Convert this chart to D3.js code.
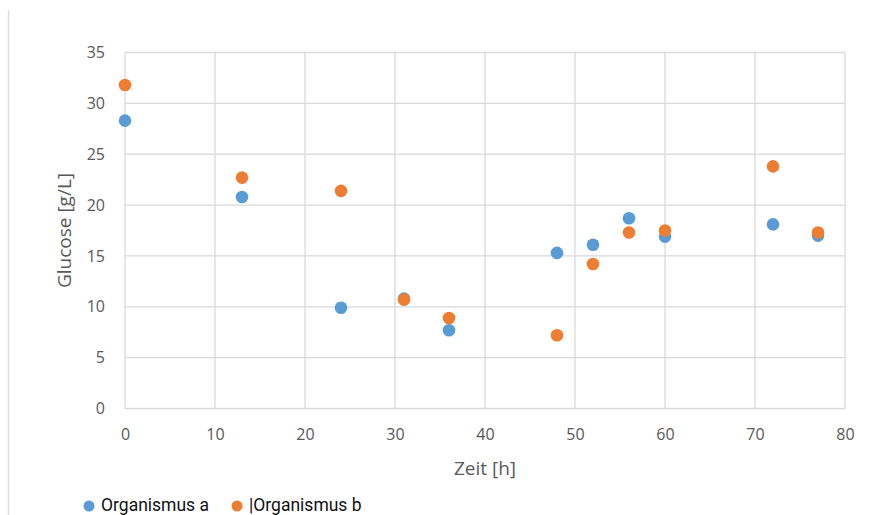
<html>
<head>
<meta charset="utf-8">
<script src="https://d3js.org/d3.v7.min.js"></script>
<style>
body { margin: 0; background: #fff; }
svg { display: block; }
.tick text { fill: #595959; font-family: 'Open Sans', sans-serif; font-size: 16px; }
.title { fill: #595959; font-family: 'Open Sans', sans-serif; font-size: 19px; }
.legend text { fill: #111; font-family: Roboto, sans-serif; font-size: 17.5px; }
</style>
</head>
<body>
<div id="chart"></div>
<script>
// Zeit [h]
var times = [0, 13, 24, 31, 36, 48, 52, 56, 60, 72, 77];
var organismA = [28.3, 20.8, 9.9, 10.8, 7.7, 15.3, 16.1, 18.7, 16.9, 18.1, 17.0];
var organismB = [31.8, 22.7, 21.4, 10.7, 8.9, 7.2, 14.2, 17.3, 17.5, 23.8, 17.3];
var seriesNames = ["Organismus a", "|Organismus b"];
var seriesColors = ["#5B9BD5", "#ED7D31"];
var xTicks = [0, 10, 20, 30, 40, 50, 60, 70, 80];
var yTicks = [0, 5, 10, 15, 20, 25, 30, 35];

var width = 896, height = 515;
var plotLeft = 125, plotRight = 845, plotTop = 52.5, plotBottom = 408.5;

var svg = d3.select("#chart").append("svg")
	.attr("width", width).attr("height", height);

// page border line on the left
svg.append("line")
	.attr("x1", 8.5).attr("x2", 8.5).attr("y1", 10).attr("y2", height)
	.attr("stroke", "#ddd").attr("stroke-width", 1.5);

var x = d3.scaleLinear().domain([0, 80]).range([plotLeft, plotRight]);
var y = d3.scaleLinear().domain([0, 35]).range([plotBottom, plotTop]);

// gridlines
svg.append("g").selectAll("line").data(xTicks).enter().append("line")
	.attr("x1", d => x(d)).attr("x2", d => x(d))
	.attr("y1", plotTop).attr("y2", plotBottom)
	.attr("stroke", "#d9d9d9").attr("stroke-width", 1.3);
svg.append("g").selectAll("line").data(yTicks).enter().append("line")
	.attr("x1", plotLeft).attr("x2", plotRight)
	.attr("y1", d => y(d)).attr("y2", d => y(d))
	.attr("stroke", "#d9d9d9").attr("stroke-width", 1.3);

var xAxis = d3.axisBottom(x).tickValues(xTicks).tickSize(0).tickPadding(20);
svg.append("g").attr("transform", "translate(0," + plotBottom + ")").call(xAxis)
	.call(g => g.select(".domain").remove());

var yAxis = d3.axisLeft(y).tickValues(yTicks).tickSize(0).tickPadding(20);
svg.append("g").attr("transform", "translate(" + plotLeft + ",0)").call(yAxis)
	.call(g => g.select(".domain").remove());

svg.append("text").attr("class", "title")
	.attr("x", (plotLeft + plotRight) / 2).attr("y", 475)
	.attr("text-anchor", "middle").text("Zeit [h]");
svg.append("text").attr("class", "title")
	.attr("transform", "translate(71," + ((plotTop + plotBottom) / 2) + ") rotate(-90)")
	.attr("text-anchor", "middle").text("Glucose [g/L]");

// points
[organismA, organismB].forEach(function (vals, i) {
	svg.append("g").selectAll("circle").data(vals).enter().append("circle")
		.attr("cx", (d, j) => x(times[j]))
		.attr("cy", d => y(d))
		.attr("r", 6.3)
		.attr("fill", seriesColors[i]);
});

// legend
var legend = svg.append("g").attr("class", "legend");
var legendX = [89, 237];
seriesNames.forEach(function (name, i) {
	legend.append("circle").attr("cx", legendX[i]).attr("cy", 506).attr("r", 5.5)
		.attr("fill", seriesColors[i]);
	legend.append("text").attr("x", legendX[i] + 12).attr("y", 510.5).text(name);
});
</script>
</body>
</html>
